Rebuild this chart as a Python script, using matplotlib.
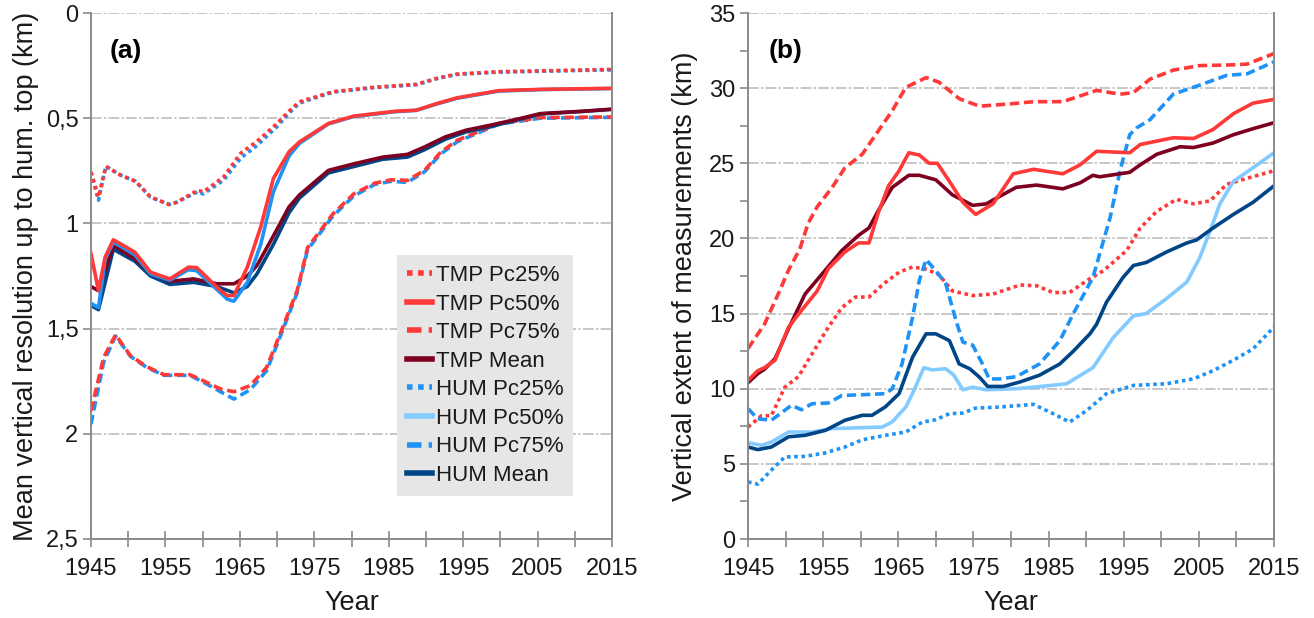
import matplotlib
matplotlib.use("Agg")
import matplotlib.pyplot as plt
from matplotlib.ticker import MultipleLocator, FixedLocator, FuncFormatter

plt.rcParams['font.family'] = ['Liberation Sans', 'DejaVu Sans']

# ---------------- panel (a): mean vertical resolution (km) ----------------
a_tmp25_yr = [1945, 1946, 1947, 1949, 1951, 1953, 1955.5, 1956.5, 1959.3, 1960.1, 1962.8, 1965.1,
              1967.3, 1970, 1971.5, 1973, 1977.5, 1983, 1988.7, 1991.5, 1994.2, 1999.8, 2005.4, 2015]
a_tmp25 = [0.756, 0.875, 0.729, 0.771, 0.80, 0.875, 0.91, 0.90, 0.843, 0.85, 0.78, 0.667,
           0.61, 0.525, 0.47, 0.422, 0.374, 0.353, 0.339, 0.31, 0.29, 0.279, 0.275, 0.268]
a_hum25 = [0.756, 0.89, 0.729, 0.771, 0.80, 0.875, 0.91, 0.90, 0.85, 0.86, 0.795, 0.69,
           0.63, 0.54, 0.48, 0.428, 0.376, 0.355, 0.341, 0.312, 0.292, 0.281, 0.277, 0.270]

a_tmp50_yr = [1945, 1946, 1946.9, 1948, 1949.6, 1950.9, 1953, 1955.6, 1958.1, 1959.2, 1962.4, 1963.3,
              1964.2, 1966, 1967.8, 1969.5, 1971.6, 1973, 1976.9, 1980.3, 1985.9, 1988.7, 1991.5,
              1994.2, 1999.8, 2005.4, 2015]
a_tmp50 = [1.144, 1.319, 1.16, 1.078, 1.11, 1.137, 1.232, 1.264, 1.208, 1.21, 1.319, 1.343,
           1.343, 1.208, 1.017, 0.787, 0.66, 0.613, 0.525, 0.49, 0.467, 0.462, 0.43,
           0.403, 0.369, 0.363, 0.358]
a_hum50 = [1.38, 1.40, 1.17, 1.09, 1.12, 1.15, 1.24, 1.27, 1.22, 1.225, 1.33, 1.36,
           1.37, 1.28, 1.10, 0.85, 0.68, 0.62, 0.527, 0.492, 0.469, 0.463, 0.432,
           0.405, 0.371, 0.364, 0.359]

a_tmp75_yr = [1945, 1946.7, 1948.3, 1950.3, 1952.5, 1954.8, 1958.3, 1960.1, 1962.4, 1964.2, 1966.4,
              1968.6, 1970.4, 1972.7, 1974.1, 1975.8, 1977.5, 1980.3, 1983.1, 1985.3, 1987.5, 1989.8,
              1992, 1994.2, 1997, 1999.8, 2005.4, 2015]
a_tmp75 = [1.89, 1.637, 1.529, 1.629, 1.681, 1.719, 1.719, 1.748, 1.787, 1.80, 1.771,
           1.684, 1.526, 1.319, 1.115, 1.035, 0.955, 0.86, 0.809, 0.793, 0.796, 0.748,
           0.661, 0.605, 0.565, 0.525, 0.497, 0.494]
a_hum75 = [1.954, 1.66, 1.535, 1.632, 1.685, 1.722, 1.722, 1.755, 1.80, 1.835, 1.79,
           1.70, 1.54, 1.33, 1.125, 1.045, 0.965, 0.87, 0.815, 0.80, 0.805, 0.755,
           0.67, 0.612, 0.57, 0.528, 0.50, 0.496]

a_mean_yr = [1945, 1946, 1948, 1950.9, 1953, 1955.6, 1958.8, 1961.9, 1964.2, 1966, 1967.3, 1969.5,
             1971.6, 1973, 1976.9, 1980.3, 1984.2, 1987.5, 1989.8, 1992.6, 1995.4, 1998.7, 2002.6,
             2005.4, 2011, 2015]
a_tmp_mean = [1.30, 1.32, 1.105, 1.168, 1.235, 1.275, 1.264, 1.287, 1.287, 1.25, 1.2, 1.06,
              0.922, 0.865, 0.748, 0.717, 0.685, 0.672, 0.637, 0.589, 0.557, 0.533, 0.502,
              0.478, 0.467, 0.457]
a_hum_mean = [1.39, 1.41, 1.123, 1.18, 1.25, 1.29, 1.28, 1.30, 1.33, 1.30, 1.24, 1.10,
              0.95, 0.88, 0.76, 0.73, 0.695, 0.685, 0.65, 0.60, 0.565, 0.54, 0.505,
              0.48, 0.468, 0.458]

# ---------------- panel (b): vertical extent of measurements (km) ----------------
b_tmp75_yr = [1945, 1947.2, 1949.2, 1950.4, 1951.9, 1953.0, 1954.2, 1956.2, 1957.9, 1960.2, 1962.4,
              1964.2, 1966.0, 1968.7, 1970.4, 1973.1, 1975.8, 1979.8, 1983.0, 1986.9, 1991.4,
              1994.5, 1996.3, 1998.5, 2001.6, 2005.1, 2009.6, 2011.4, 2015]
b_tmp75 = [12.67, 14.3, 16.5, 17.9, 19.3, 21.0, 22.1, 23.4, 24.7, 25.6, 27.2,
           28.5, 30.05, 30.7, 30.4, 29.3, 28.8, 28.95, 29.1, 29.1, 29.85,
           29.6, 29.7, 30.6, 31.2, 31.5, 31.55, 31.6, 32.3]

b_tmp50_yr = [1945, 1946.3, 1947.2, 1948.6, 1950.4, 1952.1, 1954.2, 1955.7, 1957.9, 1959.7, 1961.1,
              1962.4, 1963.7, 1965.1, 1966.4, 1967.8, 1969.1, 1970.2, 1971.8, 1973.6, 1975.3,
              1977.6, 1980.3, 1983.0, 1986.9, 1989.2, 1991.4, 1995.8, 1997.2, 2001.6, 2004.3,
              2006.9, 2009.6, 2012.2, 2015]
b_tmp50 = [10.55, 11.2, 11.4, 11.9, 14.1, 15.2, 16.5, 18.0, 19.1, 19.7, 19.7,
           21.8, 23.5, 24.5, 25.7, 25.55, 25.0, 25.0, 23.8, 22.4, 21.6,
           22.3, 24.3, 24.6, 24.3, 24.9, 25.8, 25.7, 26.25, 26.7, 26.65,
           27.25, 28.3, 29.0, 29.25]

b_tmp_mean_yr = [1945, 1946.3, 1947.2, 1948.6, 1950.4, 1952.6, 1954.8, 1957.5, 1959.7, 1961.1, 1962.4,
                 1964.2, 1966.4, 1967.8, 1970.0, 1972.2, 1974.9, 1976.7, 1978.5, 1980.7, 1983.4,
                 1986.9, 1989.2, 1990.9, 1991.8, 1995.8, 1997.2, 1999.4, 2002.5, 2004.3, 2006.9,
                 2009.6, 2012.2, 2015]
b_tmp_mean = [10.4, 11.0, 11.3, 12.0, 14.0, 16.3, 17.6, 19.2, 20.2, 20.7, 21.9,
              23.4, 24.2, 24.2, 23.9, 22.9, 22.2, 22.3, 22.8, 23.4, 23.55,
              23.3, 23.7, 24.2, 24.1, 24.4, 24.9, 25.6, 26.1, 26.05, 26.35,
              26.9, 27.3, 27.7]

b_tmp25_yr = [1945, 1946.8, 1948.1, 1949.9, 1951.7, 1953.5, 1955.7, 1957.5, 1959.3, 1961.1, 1963.1,
              1965.1, 1966.9, 1968.7, 1970.4, 1972.2, 1974.9, 1977.6, 1981.2, 1983.4, 1985.6,
              1987.8, 1990.1, 1992.3, 1995.4, 1997.2, 1999.4, 2002.0, 2004.3, 2006.5, 2008.7,
              2011.4, 2015]
b_tmp25 = [7.45, 8.2, 8.2, 10.1, 10.8, 12.3, 14.1, 15.4, 16.1, 16.1, 17.0,
           17.75, 18.1, 17.95, 17.6, 16.5, 16.2, 16.3, 16.9, 16.85, 16.4,
           16.4, 17.2, 17.85, 19.2, 20.7, 21.8, 22.6, 22.3, 22.5, 23.6,
           24.0, 24.5]

b_hum75_yr = [1945, 1946.3, 1948.1, 1950.8, 1952.1, 1953.5, 1955.7, 1957.5, 1960.2, 1963.3, 1964.2,
              1965.5, 1966.9, 1967.8, 1968.7, 1970.4, 1971.3, 1972.7, 1973.6, 1974.9, 1976.2,
              1977.1, 1978.5, 1980.7, 1983.8, 1986.5, 1988.3, 1990.9, 1993.2, 1994.5, 1995.8,
              1996.7, 1998.5, 2001.6, 2005.1, 2008.7, 2011.4, 2015]
b_hum75 = [8.67, 8.0, 7.9, 8.9, 8.6, 9.0, 9.05, 9.55, 9.6, 9.67, 10.0,
           11.65, 14.75, 17.2, 18.6, 17.6, 17.0, 14.5, 13.1, 12.9, 11.65,
           10.65, 10.65, 10.8, 11.65, 13.2, 15.0, 17.4, 21.4, 24.5, 26.9,
           27.35, 27.9, 29.6, 30.2, 30.85, 30.95, 31.75]

b_hum_mean_yr = [1945, 1946.3, 1948.1, 1950.4, 1952.6, 1955.3, 1957.9, 1960.2, 1961.5, 1963.3, 1965.1,
                 1966.9, 1968.7, 1970.0, 1971.8, 1973.1, 1974.5, 1975.8, 1976.9, 1979.0, 1981.2,
                 1983.8, 1986.5, 1988.3, 1990.5, 1991.4, 1992.7, 1994.9, 1996.3, 1998.0, 2000.7,
                 2003.4, 2004.7, 2006.9, 2009.6, 2012.2, 2015]
b_hum_mean = [6.12, 5.95, 6.12, 6.8, 6.9, 7.23, 7.9, 8.23, 8.23, 8.8, 9.67,
              12.1, 13.65, 13.65, 13.2, 11.65, 11.33, 10.77, 10.15, 10.15, 10.45,
              10.9, 11.65, 12.5, 13.65, 14.3, 15.75, 17.4, 18.2, 18.4, 19.1,
              19.7, 19.9, 20.7, 21.6, 22.4, 23.5]

b_hum50_yr = [1945, 1946.8, 1948.1, 1950.4, 1953.5, 1956.2, 1959.7, 1962.9, 1964.2, 1966.0, 1967.1,
              1968.4, 1969.5, 1971.3, 1972.4, 1973.6, 1974.9, 1976.7, 1980.7, 1983.0, 1987.4,
              1990.9, 1993.6, 1996.3, 1998.0, 2000.7, 2003.4, 2005.1, 2006.5, 2007.8, 2009.6,
              2012.2, 2015]
b_hum50 = [6.4, 6.24, 6.45, 7.12, 7.12, 7.35, 7.4, 7.45, 7.8, 8.78, 9.9,
           11.4, 11.25, 11.33, 10.9, 9.93, 10.1, 9.93, 10.0, 10.1, 10.33,
           11.4, 13.4, 14.85, 15.0, 16.0, 17.1, 18.7, 20.5, 22.3, 23.8,
           24.7, 25.7]

b_hum25_yr = [1945, 1946.3, 1948.1, 1949.9, 1952.6, 1955.3, 1957.9, 1960.2, 1963.3, 1966.0, 1968.2,
              1970.0, 1971.8, 1973.6, 1975.3, 1978.5, 1983.0, 1985.6, 1987.8, 1990.1, 1992.7,
              1996.3, 2000.7, 2004.3, 2006.9, 2009.6, 2012.2, 2015]
b_hum25 = [3.8, 3.65, 4.58, 5.46, 5.5, 5.73, 6.12, 6.6, 6.9, 7.12, 7.78,
           7.94, 8.34, 8.38, 8.71, 8.78, 8.96, 8.34, 7.78, 8.56, 9.67,
           10.22, 10.33, 10.66, 11.2, 11.9, 12.65, 14.1]

year_ticks = list(range(1945, 2016, 10))
year_minor = list(range(1950, 2015, 10))

# colours / styles
RED = '#ff3838'
DARKRED = '#7e0021'
BLUE = '#1e93f5'
LIGHTBLUE = '#83caff'
DARKBLUE = '#004586'
DOT = (0, (1, 1))
DASH = (0, (2.6, 1.3))
GRID = '#b8b8b8'
SPINE = '#8a8a8a'
TXT = '#1a1a1a'

fig = plt.figure(figsize=(13.14, 6.18), dpi=100)
ax_a = fig.add_axes([91 / 1314, 79 / 618, 521 / 1314, 526 / 618])
ax_b = fig.add_axes([748 / 1314, 79 / 618, 526 / 1314, 526 / 618])


def style_axes(ax):
    ax.set_xlim(1945, 2015)
    ax.xaxis.set_major_locator(FixedLocator(year_ticks))
    ax.xaxis.set_minor_locator(FixedLocator(year_minor))
    ax.tick_params(axis='x', which='both', direction='inout', length=12, width=1.2,
                   color=SPINE, labelsize=17, labelcolor=TXT, pad=8)
    ax.tick_params(axis='y', which='both', direction='out', length=6, width=1.2,
                   color=SPINE, labelsize=17, labelcolor=TXT, pad=3)
    ax.grid(axis='y', which='major', color=GRID, lw=1.1, linestyle=(0, (7, 1.5, 1.5, 1.5)))
    ax.spines['top'].set_visible(False)
    for s in ['left', 'bottom', 'right']:
        ax.spines[s].set_color(SPINE)
        ax.spines[s].set_linewidth(1.4)
    ax.set_axisbelow(True)
    ax.set_xlabel('Year', fontsize=19.5, color=TXT, labelpad=7)


# panel (a)
LW = 2.6
ax_a.plot(a_tmp25_yr, a_hum25, color=BLUE, lw=LW, linestyle=DOT)
ax_a.plot(a_tmp25_yr, a_tmp25, color=RED, lw=LW, linestyle=DOT)
ax_a.plot(a_tmp75_yr, a_hum75, color=BLUE, lw=LW, linestyle=DASH)
ax_a.plot(a_tmp75_yr, a_tmp75, color=RED, lw=LW, linestyle=DASH)
ax_a.plot(a_mean_yr, a_hum_mean, color=DARKBLUE, lw=LW)
ax_a.plot(a_mean_yr, a_tmp_mean, color=DARKRED, lw=LW)
ax_a.plot(a_tmp50_yr, a_hum50, color=BLUE, lw=LW)
ax_a.plot(a_tmp50_yr, a_tmp50, color=RED, lw=LW)
ax_a.set_ylim(2.5, 0)
ax_a.yaxis.set_major_locator(MultipleLocator(0.5))
ax_a.yaxis.set_major_formatter(FuncFormatter(lambda v, p: f"{v:g}".replace('.', ',')))
style_axes(ax_a)
ax_a.set_ylabel('Mean vertical resolution up to hum. top (km)', fontsize=19.5, color=TXT,
                labelpad=5)
ax_a.text(0.036, 0.928, '(a)', transform=ax_a.transAxes, fontsize=19, fontweight='bold',
          va='center', ha='left')

# legend (handles only)
labels = ['TMP Pc25%', 'TMP Pc50%', 'TMP Pc75%', 'TMP Mean',
          'HUM Pc25%', 'HUM Pc50%', 'HUM Pc75%', 'HUM Mean']
colors = [RED, RED, RED, DARKRED, BLUE, LIGHTBLUE, BLUE, DARKBLUE]
styles = [DOT, '-', DASH, '-', DOT, '-', DASH, '-']
handles = [plt.Line2D([], [], color=c, lw=4, linestyle=s) for c, s in zip(colors, styles)]
leg = ax_a.legend(handles, labels, loc='upper left', bbox_to_anchor=(0.587, 0.54),
                  fontsize=16, frameon=True, fancybox=False, facecolor='#e6e6e6',
                  edgecolor='none', framealpha=1, handlelength=1.15, handletextpad=0.15,
                  labelspacing=0.34, borderpad=0.45, borderaxespad=0)
for t in leg.get_texts():
    t.set_color(TXT)

# panel (b)
ax_b.plot(b_hum25_yr, b_hum25, color=BLUE, lw=LW, linestyle=DOT)
ax_b.plot(b_tmp25_yr, b_tmp25, color=RED, lw=LW, linestyle=DOT)
ax_b.plot(b_hum50_yr, b_hum50, color=LIGHTBLUE, lw=LW)
ax_b.plot(b_hum_mean_yr, b_hum_mean, color=DARKBLUE, lw=LW)
ax_b.plot(b_hum75_yr, b_hum75, color=BLUE, lw=LW, linestyle=DASH)
ax_b.plot(b_tmp75_yr, b_tmp75, color=RED, lw=LW, linestyle=DASH)
ax_b.plot(b_tmp_mean_yr, b_tmp_mean, color=DARKRED, lw=LW)
ax_b.plot(b_tmp50_yr, b_tmp50, color=RED, lw=LW)
ax_b.set_ylim(0, 35)
ax_b.yaxis.set_major_locator(MultipleLocator(5))
ax_b.yaxis.set_minor_locator(MultipleLocator(2.5))
style_axes(ax_b)
ax_b.set_ylabel('Vertical extent of measurements (km)', fontsize=19.5, color=TXT, labelpad=8)
ax_b.text(0.04, 0.928, '(b)', transform=ax_b.transAxes, fontsize=19, fontweight='bold',
          va='center', ha='left')

fig.savefig('out.png', dpi=100)
